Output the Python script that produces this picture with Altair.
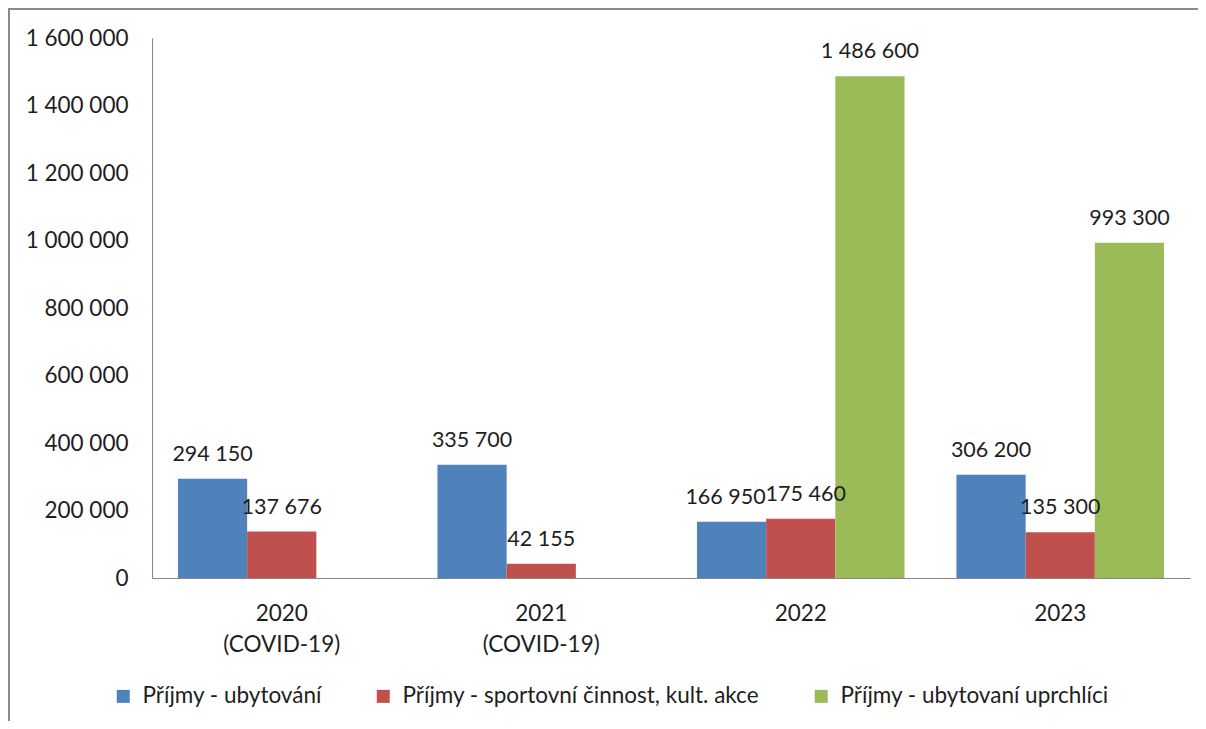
import altair as alt
import pandas as pd

categories = ["2020\n(COVID-19)", "2021\n(COVID-19)", "2022", "2023"]
series = [
    "Příjmy - ubytování",
    "Příjmy - sportovní činnost, kult. akce",
    "Příjmy - ubytovaní uprchlíci",
]
ubytovani = [294150, 335700, 166950, 306200]
sport = [137676, 42155, 175460, 135300]
uprchlici = [None, None, 1486600, 993300]
colors = ["#4F81BD", "#C0504D", "#9BBB59"]
y_ticks = [0, 200000, 400000, 600000, 800000, 1000000, 1200000, 1400000, 1600000]

rows = []
for s, vals in zip(series, [ubytovani, sport, uprchlici]):
    for c, v in zip(categories, vals):
        if v is not None:
            rows.append({"cat": c, "series": s, "value": v})
df = pd.DataFrame(rows)

FONT = "Lato"
FS = 22.5
TXT = "#1e1e1e"
fmt = "replace(format(datum.value, ','), regexp(',', 'g'), ' ')"

x = alt.X(
    "cat:N",
    sort=categories,
    scale=alt.Scale(domain=categories, paddingInner=0.2, paddingOuter=0.1),
    axis=alt.Axis(
        title=None, labelAngle=0, ticks=False, labelPadding=24,
        labelExpr="split(datum.label, '\\n')", labelLineHeight=31,
        labelBaseline="top", labelFont=FONT, labelFontSize=FS, labelColor=TXT,
        domainColor="#868686", domainWidth=1,
    ),
)
xoff = alt.XOffset(
    "series:N", sort=series,
    scale=alt.Scale(domain=series, paddingInner=0, paddingOuter=0),
)
y = alt.Y(
    "value:Q",
    scale=alt.Scale(domain=[0, 1600000], nice=False),
    axis=alt.Axis(
        title=None, values=y_ticks, grid=False, ticks=False, labelPadding=24,
        labelExpr=fmt, labelFont=FONT, labelFontSize=FS, labelColor=TXT,
        domainColor="#868686", domainWidth=1,
    ),
)

bars = alt.Chart(df).mark_bar().encode(
    x=x, xOffset=xoff, y=y,
    color=alt.Color(
        "series:N", sort=series,
        scale=alt.Scale(domain=series, range=colors),
        legend=alt.Legend(
            orient="none", legendX=-40, legendY=647, direction="horizontal",
            columns=3, title=None, symbolType="square", symbolSize=169,
            symbolStrokeWidth=0, labelFont=FONT, labelFontSize=FS,
            labelColor=TXT, labelOffset=8, labelLimit=600, columnPadding=50,
            padding=0,
        ),
    ),
)

crowded_blue = f"datum.cat == '2022' && datum.series == '{series[0]}'"
crowded_red = f"datum.cat == '2022' && datum.series == '{series[1]}'"


def label_layer(filt, dx):
    return alt.Chart(df).transform_filter(filt).transform_calculate(lbl=fmt).mark_text(
        baseline="alphabetic", dy=-18, dx=dx, font=FONT, fontSize=21.5, color=TXT
    ).encode(x=x, xOffset=xoff, y=y, text="lbl:N")


labels_main = label_layer(f"!({crowded_blue}) && !({crowded_red})", 0)
labels_blue = label_layer(crowded_blue, -6)
labels_red = label_layer(crowded_red, 5)

frame_left = alt.Chart(df).mark_rule(color="#8a8a8a", strokeWidth=2).encode(
    x=alt.value(-143), y=alt.value(-29), y2=alt.value(720)
)
frame_top = alt.Chart(df).mark_rule(color="#8a8a8a", strokeWidth=2).encode(
    x=alt.value(-144), x2=alt.value(1100), y=alt.value(-29)
)

chart = alt.layer(
    bars, labels_main, labels_blue, labels_red, frame_left, frame_top
).properties(
    width=1038, height=540,
    autosize=alt.AutoSizeParams(type="none"),
    padding={"left": 144, "top": 30, "right": 8, "bottom": 143},
).configure_view(stroke=None)

chart.save("out.html", embed_options={"renderer": "svg", "actions": False})
